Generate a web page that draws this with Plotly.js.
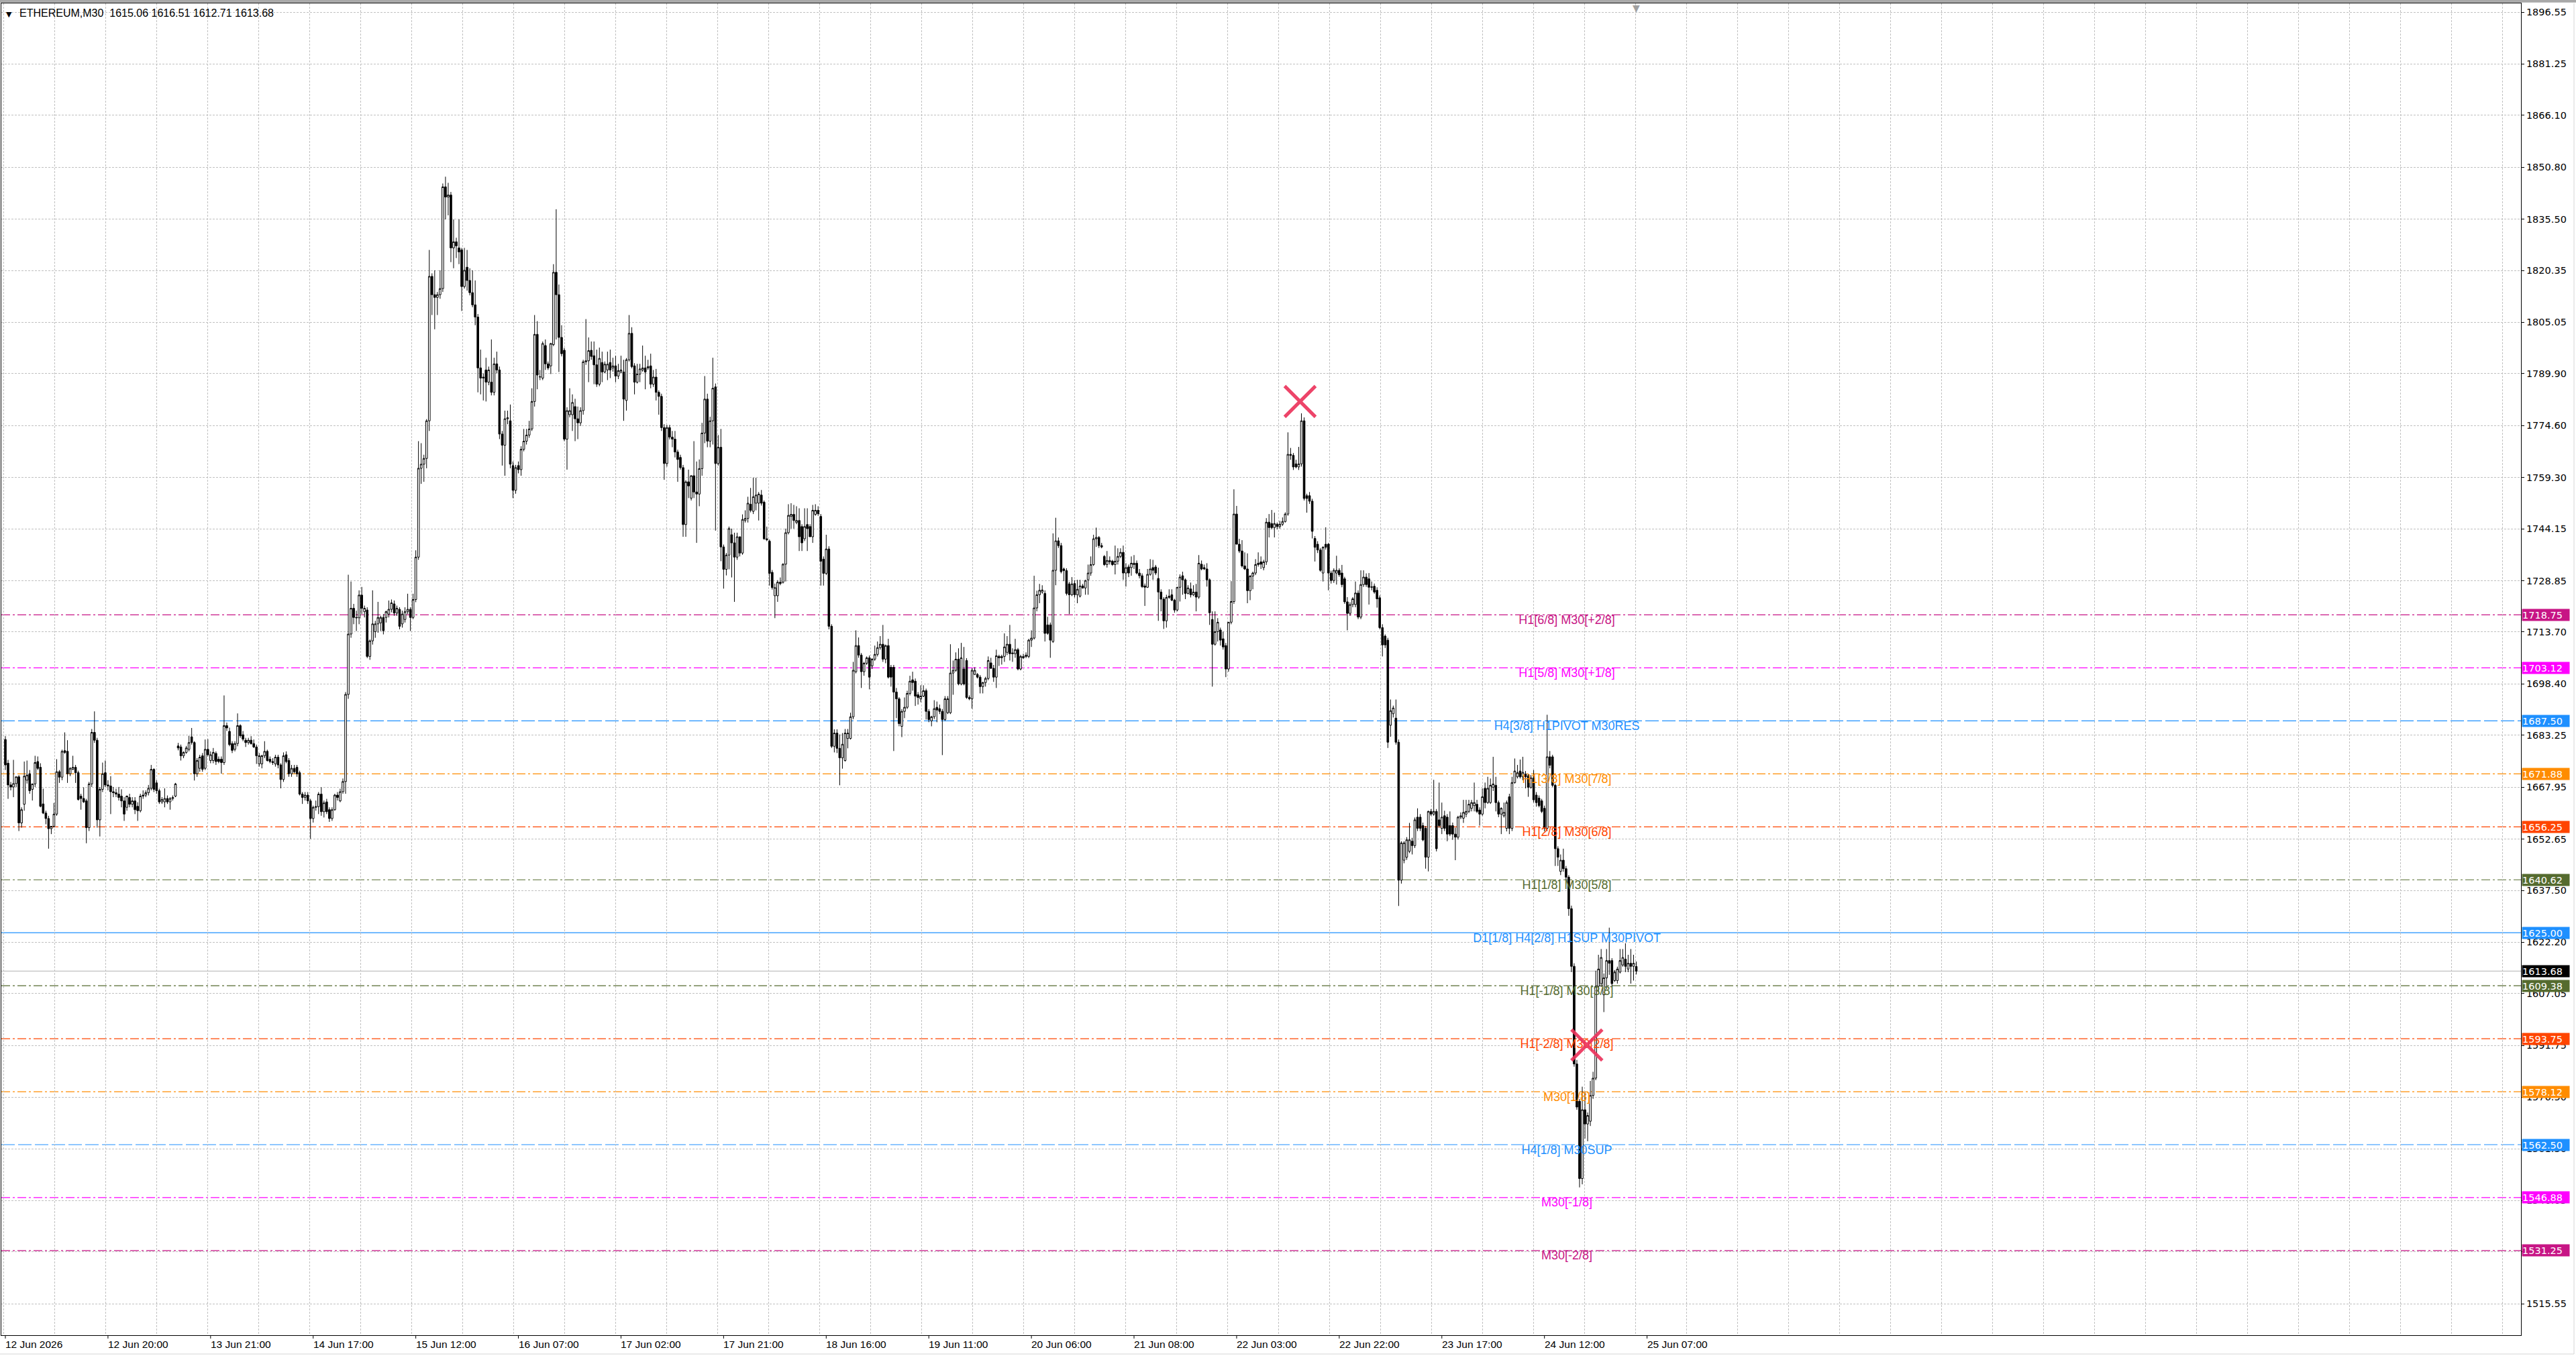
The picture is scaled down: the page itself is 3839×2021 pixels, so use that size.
<!DOCTYPE html>
<html>
<head>
<meta charset="utf-8">
<script src="https://cdn.plot.ly/plotly-3.0.1.min.js"></script>
<style>html,body{margin:0;padding:0;background:#fff;overflow:hidden}</style>
</head>
<body>
<div id="chart" style="width:3839px;height:2021px"></div>
<script>
// ---------------- DATA ----------------
const symbolName = 'ETHEREUM';
const timeframe = 'M30';

// OHLC per 30-minute bar (4 consecutive segments)
const openA = [1682,1675,1668.6,1668,1669,1671,1657.4,1662.9,1670,1671.9,
1667.3,1668.9,1675.5,1673.8,1663,1660.3,1658.7,1655.7,1656.4,1660,
1672.5,1670.9,1678.7,1678.5,1671.9,1673.2,1673.8,1672.2,1665.3,1664.6,
1663.9,1656,1668.9,1684.1,1681.8,1658.3,1667.3,1672.2,1668.6,1668.3,
1666.6,1666.3,1665.9,1665.3,1663.9,1662,1664.9,1662.9,1663.9,1662.3,
1661,1665.3,1665.6,1666.3,1667.6,1673.2,1669.2,1666.9,1663.6,1663.6,
1664.6,1663.6,1664.6,1665.3,1680.1,1679.8,1677.2,1678.2,1679.1,1682.8,
1681.1,1671.9,1673.5,1677.2,1673.5,1679.1,1675.8,1675.8,1677.9,1676.2,
1676.2,1675.2,1686.1,1684.4,1680.8,1679.1,1680.8,1686.1,1683.4,1681.8,
1681.1,1681.8,1680.8,1679.8,1674.8,1674.8,1677.2,1678.5,1676.2,1675.5,
1674.8,1676.8,1674.5,1670.2,1677.5,1675.8,1671.9,1673.5,1673.8,1672.2,
1665.9,1664.9,1665.6,1663.9,1658.7,1662,1662.2,1665.9,1660.7,1663.6,
1661.3,1658.7,1661.3,1665.6,1663.9,1666.6,1669.6,1695.3,1713.1,1720.7,
1718,1717.9,1724.6,1719.7,1720.2,1706.5,1711.1,1713.8,1716.1,1716.4,
1718,1718,1719,1720.4,1722,1719.3,1720.4,1716.1,1717.4,1719.7,
1720.4,1718,1723.3];
const highA = [1683,1676,1669.5,1676,1671,1671.5,1662,1675.5,1675.8,1673,
1669,1677.2,1677,1675,1667.5,1661,1659.5,1656.5,1663.3,1676.2,
1673,1679,1684.1,1681.8,1673.8,1677.2,1674.5,1672.8,1666,1667.9,
1664.5,1669.5,1685.1,1690.3,1682.5,1668,1675.2,1675.8,1670,1671.2,
1668,1667.5,1668,1667.3,1665,1665.5,1666,1665,1665,1663.5,
1666,1667,1667,1668.6,1674.5,1673.5,1670,1667.5,1665,1667.6,
1665.5,1665,1665.5,1669.2,1681,1680.5,1678.5,1680.1,1683.1,1685.4,
1681.5,1676.5,1677.5,1678,1682,1682.1,1678.5,1679.5,1678.5,1677,
1677,1695,1687,1685.5,1681.5,1681.5,1689.7,1686.5,1684.5,1682.5,
1682.5,1683,1682,1680.5,1678,1677.5,1681.5,1679,1677,1676.5,
1677.5,1677.5,1675,1678.2,1678.5,1676.5,1674.5,1674.5,1674.5,1672.8,
1666.5,1666.5,1666.5,1664.5,1662.5,1664,1666.5,1667.9,1664,1664.5,
1662,1662,1666,1666.5,1667.5,1670.5,1696,1730.6,1728.6,1722,
1720,1726,1727,1721.5,1721,1711.5,1726,1717,1722.6,1718.5,
1719,1720,1723,1723.3,1723,1721.5,1721,1720,1721,1725,
1721,1725,1737.8];
const lowA = [1673,1664.5,1667,1665,1668,1655,1656,1661,1669,1666,
1664,1668,1673,1662,1660,1657,1649.8,1654.1,1656,1659.5,
1669.2,1670,1677.8,1669.2,1671.2,1673,1669.2,1664,1661.3,1663.3,
1651.4,1655,1668,1681,1656,1653.4,1666.5,1668,1667,1660,
1665,1665,1664,1662,1658,1661,1662,1662,1660,1658,
1660.5,1664.5,1665,1665.5,1667,1666.5,1666,1663,1663,1662,
1663,1661.3,1664,1665,1678.8,1675.8,1676.5,1677.8,1678.5,1680.5,
1669.9,1671,1672.5,1672.5,1673,1677,1675,1675,1674.5,1675,
1671.9,1674.5,1684.5,1680,1678,1678.5,1680,1682.5,1681.5,1679.8,
1680.5,1680.5,1679.5,1674.8,1674,1673.5,1676.5,1675.5,1675,1674.5,
1674,1673.5,1667.6,1669.5,1675,1671,1671,1672,1671,1665.5,
1663,1664,1663,1652.7,1657.5,1661,1660,1659.5,1659,1660,
1657.7,1658,1661,1664,1663.5,1666,1666,1694,1712,1716,
1714,1716,1719,1718,1706,1705.5,1710,1712,1713.5,1714,
1713,1716.5,1718,1719.5,1718.5,1718.5,1714.5,1715,1716.5,1719,
1714,1717.5,1722.5];
const closeA = [1674.5,1668.6,1668,1669,1671,1657.4,1661.3,1671.2,1671.5,1666.9,
1668.9,1675.2,1673.5,1662.3,1660.3,1658.7,1655.7,1656.4,1660,1672.5,
1670.9,1678.5,1678.2,1671.9,1673.5,1673.8,1672.2,1664.3,1664.6,1663.6,
1656,1668.9,1684.1,1681.8,1658.3,1667.3,1671.9,1668.6,1668.3,1666.6,
1666.3,1665.9,1664.9,1663.9,1660,1665.3,1662.9,1663.9,1661.3,1661,
1665.3,1665.6,1666.3,1667.6,1673.2,1667.3,1666.9,1663.6,1664.3,1664.6,
1663.6,1664.6,1664.9,1668.9,1679.5,1677.2,1678.2,1679.5,1681.1,1681.1,
1671.9,1675.8,1676.8,1673.2,1679.1,1677.5,1677.5,1678.2,1675.5,1675.5,
1675.2,1686.1,1685.4,1680.5,1678.8,1680.8,1686.1,1683.1,1682.1,1681.1,
1681.8,1680.8,1679.8,1677.2,1677.2,1677.2,1678.5,1675.8,1675.5,1675.2,
1676.8,1674.5,1670.2,1677.2,1675.5,1671.9,1673.5,1672.5,1671.9,1665.9,
1664.9,1665.6,1663.9,1658.7,1662,1662.2,1665.9,1660.7,1663.3,1660.7,
1658.7,1661.3,1665.6,1664.9,1666.6,1669.6,1695.3,1713.1,1720.7,1718,
1717.9,1724.6,1720.7,1720.7,1706.5,1711.1,1716.1,1716.1,1718,1718,
1714.1,1719.7,1720.4,1722.3,1719.3,1720.7,1715.4,1719,1719.7,1720.4,
1718,1723.3,1735.8];

const openB = [1735.8,1762,1763.2,1764.9,1776,1818.6,1813.2,1812.4,1813.2,1815,
1845,1842,1842.6,1827,1828.8,1827,1826.4,1815.6,1821.3,1817.4,
1813.8,1810.2,1806.6,1791.6,1788.6,1791,1787.4,1787.4,1784.4,1792.8,
1791,1772.1,1768.8,1776.6,1776,1762.8,1755.5,1762.8,1761.6,1767.6,
1770,1771.8,1773.6,1781.7,1801.5,1788.9,1788.6,1798.2,1792.8,1792.2,
1798.5,1819.8,1813.2,1800.6,1796.8,1770.6,1777.8,1777.8,1780.2,1776.6,
1775.4,1779,1793.4,1793.7,1796.8,1795.2,1792.5,1786.8,1793.2,1790.4,
1791,1793.2,1791.6,1792.2,1789.2,1790.4,1790.4,1782,1794,1801.8,
1792.2,1787.4,1789.8,1791,1791.6,1791.6,1792.2,1786.8,1788.9,1784.4,
1783.2,1774,1763.4,1774,1771.2,1770.6,1766.8,1765.2,1762.2,1745.4,
1758,1753.2,1759.8,1755,1754.4,1761.9,1772.4,1782.4,1770,1776,
1786,1763.4,1768.2,1738.8,1732.2,1736.4,1742.4,1740,1735.8,1741.8,
1737,1746.6,1747.2,1751.4,1749.3,1751.7,1751.7,1754.1,1752,1741.2,
1740.5,1731.3,1724.4,1724.4,1728.4,1728.4,1733.7,1743,1747.8,1748.4,
1746,1746.6,1744.8,1741.2,1745.4,1744.8,1741.8,1748.4,1749.6,1747.8,
1735.2,1731,1738.2,1715.4];
const highB = [1770,1769.4,1766,1776.5,1826.4,1819.5,1820.4,1814,1820.4,1846,
1848,1846.2,1843.5,1835.4,1830,1835.4,1827,1827,1826.4,1821,
1820.4,1817.4,1807.5,1797,1790,1794.6,1792,1800,1794.6,1796.4,
1792,1773,1779,1779,1780.8,1764,1763,1764,1768.5,1773.6,
1773.6,1776,1785.6,1807.2,1805.4,1791,1799.4,1800,1793.5,1799,
1822.2,1838.4,1816.2,1804.2,1797.5,1780,1785.6,1783.8,1782.5,1780.2,
1780,1794,1806,1800.6,1799.4,1799.4,1797,1797.6,1796.4,1793.5,
1796.4,1797,1794.6,1795.2,1792.8,1795.2,1794,1794.5,1807.2,1803.6,
1793,1792.8,1792.8,1798.2,1795.2,1794,1795.8,1791,1791.3,1785,
1784,1775,1774.8,1774.8,1773,1773,1767.5,1766,1763,1758.5,
1761.6,1760,1770,1764,1764.6,1775.4,1789.2,1784,1777.2,1794.6,
1787,1771.8,1773.6,1739.5,1737,1744.8,1744.2,1743,1743,1741.8,
1748.4,1749.6,1753.6,1756.2,1759.2,1759.2,1755,1755.6,1752.5,1744.8,
1741,1732,1728,1729,1729.8,1734,1744.2,1751.4,1751.7,1751.2,
1750.8,1750.2,1745.5,1750.2,1750.2,1745.5,1751.2,1751.4,1750.8,1748.5,
1736,1742.4,1739,1716];
const lowB = [1735,1757.4,1758,1762,1773,1807.2,1803,1807.2,1812,1814,
1835.4,1836.6,1822.8,1821,1824,1822.2,1808.4,1815,1814.4,1813,
1809.5,1804.2,1784.4,1783.8,1782,1781.7,1786.5,1783.5,1783.5,1790,
1770.6,1762.8,1759.8,1775,1762,1753.2,1754.5,1760.5,1759.8,1767,
1769,1771,1773,1780.2,1785.3,1788,1788,1791,1791,1789.8,
1798,1800,1790.4,1795,1770,1761.6,1777,1773,1770,1770.6,
1774.5,1777.8,1792.5,1787.4,1794,1786.8,1786,1786.2,1787.4,1790,
1788,1788.6,1790.5,1787.4,1788.3,1790,1776,1779,1793.5,1791.5,
1783.8,1787,1787.4,1790.5,1785.3,1791,1785.6,1786,1782,1777.8,
1773,1758.6,1762.5,1770.5,1768.2,1765.2,1758,1761.6,1741.8,1741.8,
1753.2,1752.5,1753.2,1740,1750.8,1759.8,1769.4,1768.2,1768.2,1769,
1743.6,1762.8,1734.6,1726.5,1730.4,1732.2,1729.8,1722.6,1735,1736,
1736.5,1746,1746,1749,1748.5,1749.6,1746.6,1751,1740.9,1740.5,
1727.4,1726.2,1717.8,1722.6,1727.5,1728,1728.6,1742.5,1744.2,1744.2,
1745.5,1737.6,1737.6,1740.5,1737.6,1741.8,1740,1748,1748,1727.4,
1727.4,1730.5,1714.5,1679.5];
const closeB = [1762,1763.2,1764.9,1776,1818.6,1813.2,1812.4,1813.2,1815,1845,
1842,1842.6,1827,1828.8,1827.6,1825.8,1815.6,1820.4,1817.4,1813.8,
1810.2,1806.6,1791.6,1788.6,1788.9,1787.4,1791,1784.4,1792.8,1791,
1772.1,1768.8,1776.6,1776.9,1763.2,1755.5,1762.2,1761.6,1767.6,1770,
1771.8,1773.6,1781.7,1801.5,1789.5,1789,1798.8,1792.8,1791.6,1798.8,
1819.8,1813.2,1800.6,1795.8,1770.6,1779,1779,1781.4,1776.6,1775.4,
1779,1793.4,1793.7,1796.7,1795,1792.5,1786.8,1794.4,1790.4,1792.7,
1792.7,1791,1792.2,1789.2,1790.8,1791,1782.4,1794,1801.8,1792,
1787.4,1789.8,1791.3,1791.6,1790.4,1792,1786.8,1788.9,1784.4,1783.2,
1774,1763.4,1774,1771.2,1770.6,1766.8,1764.6,1762.2,1745.4,1758,
1756.8,1759.8,1755,1754.4,1761.9,1772.4,1782.4,1770,1776,1785.6,
1763.4,1768.2,1738.8,1732.2,1736.4,1744.2,1740,1735.8,1741.8,1737,
1746.9,1747.2,1751.7,1749.6,1753.6,1754.1,1754.4,1751.7,1741.2,1740.9,
1731,1726.8,1726.8,1728.4,1728,1733.7,1743,1748.1,1748.4,1746.6,
1746.6,1741.8,1740,1744.8,1744.2,1741.8,1749.6,1749.6,1748.6,1734.6,
1731,1738.2,1715.4,1680];

const openC = [1680,1683.9,1679.4,1676.6,1675.8,1682.3,1682.3,1688.7,1702,1709.7,
1706.9,1702,1704.5,1706.1,1703.7,1705.7,1707.1,1709.1,1710.1,1705.7,
1709.7,1703.3,1703.3,1696,1694,1685.9,1690.3,1691.5,1695.6,1699.6,
1699.2,1695.2,1694,1694.8,1696.4,1690.3,1687.5,1688.7,1691.5,1691.1,
1690.3,1687.9,1689.9,1689.9,1701.6,1702.4,1705.7,1698.4,1702.8,1705.3,
1694,1694,1701.2,1701.2,1700.4,1697.6,1698.8,1700,1704.6,1703,
1700.4,1706.5,1706.1,1706.5,1707.7,1710.1,1707.3,1707.3,1708.5,1702.8,
1706.1,1706.5,1706.5,1711.3,1711.9,1720.8,1724.7,1725.5,1725.1,1715.8,
1715.8,1710.9,1731.9,1740.6,1739.2,1732.3,1731.8,1727.9,1724.7,1728,
1724.7,1724.3,1727.3,1726.7,1729.1,1731.1,1733.6,1741.2,1741.6,1739.2,
1736,1733.6,1734.4,1734.6,1733.6,1734.6,1736,1737.2,1731.1,1732.9,
1732.7,1733.6,1734,1731.1,1730.3,1727.3,1726.9,1730.7,1732.7,1732.9,
1729.5,1725.5,1723.4,1717,1723.9,1724.7,1723.1,1720.2,1726.9,1730.3,
1729.1,1725.1,1726.4,1724.7,1725.5,1724,1733.7,1732.7,1732.3,1729.1,
1717.4,1710.1,1713.8,1714.3,1711.7,1709.7,1702.8,1716.6,1722.7,1748.5,
1739.6,1737.6,1733.2,1732.3,1725.9,1730.2,1731.1,1733.6,1734.4,1732.7,
1734.4,1746.1,1745.7,1744.5];
const highC = [1685,1685,1683.5,1683.9,1685.1,1685.1,1689.9,1704.9,1714.2,1712.1,
1707.5,1704.9,1706.5,1706.8,1706,1709.7,1710.9,1712.5,1715.8,1710,
1711.7,1704,1704,1697.2,1694.5,1691,1694.4,1696.4,1700.8,1702,
1700,1696,1698,1698,1697,1691,1689,1693.6,1693.2,1692.3,
1691,1694.8,1694.8,1710.1,1705.3,1707.7,1708.9,1710.5,1709.3,1706,
1695,1703,1703.3,1701.6,1701,1699,1700.5,1706.5,1706.1,1704,
1708.5,1707,1707,1713.3,1712.5,1715.8,1708.9,1711.7,1709,1707,
1707.3,1707.7,1711.7,1714.2,1730.3,1725.9,1727.9,1727.5,1726,1718.2,
1716.5,1742.8,1747.4,1741.6,1740,1732.7,1732.5,1728.5,1729.9,1729,
1729.1,1729.1,1727.9,1729.1,1733.6,1736,1742.4,1744.5,1742,1740,
1736.4,1737.6,1736,1735,1739.2,1738.4,1738.4,1739.2,1734,1733.6,
1736,1736.4,1734.8,1732.3,1731,1728,1732.3,1735.2,1735,1733.5,
1732.7,1726.3,1724,1724.7,1726.3,1726.3,1723.5,1727,1730.7,1731.5,
1729.5,1727.5,1728.3,1727.5,1727.9,1736.4,1734.8,1733.6,1734,1729.5,
1719.8,1719.8,1717.8,1715,1713.8,1710.5,1716.6,1728.7,1755.8,1750.9,
1741.2,1740.8,1737.2,1736.9,1730.5,1731.5,1735.2,1737.2,1736,1735,
1747.3,1748.5,1749.7,1748.9];
const lowC = [1678.2,1678,1668.5,1673.4,1675.5,1679.4,1682,1688,1701.5,1706.1,
1697.2,1700.8,1704,1696.8,1702.8,1705.2,1706.5,1708.5,1704.9,1704.5,
1700,1697.6,1678.6,1688.3,1685.9,1682.7,1688.3,1691,1695,1696.4,
1691.9,1692.3,1693,1694.5,1687.9,1687.1,1685.9,1688,1687.1,1689.5,
1677.4,1687.5,1689.5,1689.5,1695.2,1702,1698,1698,1698,1694,
1693.6,1691.1,1701,1700,1695.6,1695.6,1697.6,1699.5,1702.8,1699,
1697.2,1703.7,1704.1,1704.9,1706.9,1705.3,1704.9,1706.1,1702.4,1702.4,
1705.8,1706,1706,1709.3,1711.5,1719.8,1722.2,1725,1710.9,1712.9,
1706.1,1710.5,1727.5,1738.5,1731,1728.7,1724.5,1719,1724.3,1723.9,
1722.2,1723.9,1726.5,1724.7,1724.7,1730.3,1733.2,1738.8,1738.5,1738.4,
1733.2,1732.7,1733.6,1733.2,1730.7,1733.6,1735.5,1729.1,1727.1,1729.9,
1730.3,1732.3,1730.7,1729.5,1726.7,1721.4,1726.7,1730.3,1729.1,1730.5,
1717,1719.8,1714.6,1715,1723.5,1722.8,1719.4,1719.8,1722.7,1724.7,
1723.4,1724.8,1723.9,1724.3,1719.8,1723.5,1731.9,1732,1727.1,1715.8,
1697.6,1709.7,1710.9,1709.7,1708.5,1700.4,1702,1716,1722,1739.6,
1737,1732.7,1732,1722.2,1723.1,1726.3,1730.5,1733,1732.3,1731.9,
1733.5,1741.6,1744,1741.6];
const closeC = [1683.9,1679.4,1676.6,1680.6,1683.9,1683.9,1688.7,1702.4,1709.7,1706.9,
1702,1704.5,1706.1,1700.4,1705.7,1707.1,1709.1,1710.1,1705.7,1709.7,
1700.4,1700.4,1696,1694,1686.7,1690.3,1691.5,1695.6,1699.2,1698.8,
1694.8,1694.4,1694.8,1696.4,1690.3,1687.9,1688.7,1691.1,1690.7,1690.3,
1687.9,1694,1694,1701.6,1702.4,1705.7,1698.4,1706.1,1698.4,1694.4,
1694.4,1702.4,1702.4,1700.4,1697.6,1698.8,1700,1705.3,1703,1700.4,
1706.7,1706.1,1706.5,1709.3,1710.1,1707.3,1707.5,1708.5,1702.8,1706.5,
1706.5,1706.9,1711.3,1711.9,1720.8,1724.7,1726,1726.1,1713.3,1713.3,
1711.3,1731.9,1740.6,1739.2,1731.5,1731.8,1725.1,1724.7,1727.9,1724.7,
1726.3,1727.3,1726.7,1728.9,1731.1,1733.6,1741.2,1741.6,1739.2,1738.8,
1733.6,1734.8,1734.8,1733.6,1734.6,1736,1737.2,1731.1,1732.7,1731.1,
1734,1734,1731.1,1730.3,1727.1,1726.9,1730.7,1732.3,1731.9,1731.1,
1725.5,1723.4,1717,1723.9,1724.3,1723.1,1720.2,1726.9,1729.9,1729.1,
1725.1,1726.7,1724.7,1725.5,1724,1734,1732.3,1732.3,1729.1,1719.4,
1710.1,1713.8,1716.6,1711.3,1709.3,1702.8,1716.6,1722.7,1748.5,1739.6,
1737.6,1733.2,1732.3,1725.9,1730.2,1731.1,1733.6,1734,1733.7,1734.4,
1746.1,1744.5,1744.5,1745.7];

const openD = [1745.5,1744.8,1745.5,1746.3,1748.5,1766.1,1765.8,1763.3,1762.4,1763.3,
1776,1753.9,1753.9,1752.3,1741.3,1739.6,1737.9,1731.1,1739.6,1739.6,
1731.1,1728.9,1731.1,1731.9,1731.1,1729.4,1722.6,1719.2,1721.8,1721.8,
1725.2,1718.1,1727.7,1729.9,1729.4,1726.9,1727.2,1726,1723.8,1715,
1712.5,1711.3,1686.2,1689.6,1688.3,1681.2,1640.5,1646.4,1647.3,1649,
1652,1650.7,1659.1,1659.1,1656.6,1655.8,1647.3,1660.8,1660,1660.8,
1658.3,1655.8,1659.5,1659.1,1656.6,1656.6,1654.1,1653.2,1659.1,1658.8,
1660,1660.8,1661.7,1662.5,1662.9,1661.2,1660,1667.6,1663.4,1663.4,
1667.9,1668.5,1663.4,1660,1659.5,1655.8,1665.1,1655.8,1669.3,1671,
1672.7,1671,1671.8,1671.3,1667.9,1670.7,1665.6,1664.7,1663.9,1661.7,
1655.8,1676.9,1676.9,1668.5,1649.8,1643.1,1646.4,1643.9,1641.4,1632.1,
1615.1,1586.3,1575.3,1552.5,1572.8,1568.6,1569.4,1577,1582.1,1609.2,
1610,1606.7,1611.7,1616.8,1616.8,1610.9,1610.9,1613.4,1615.5,1617.2,
1614.3,1616,1615.1,1615.06];
const highD = [1746,1746.5,1747.5,1749,1772.6,1768,1766.5,1764.5,1768.3,1778.2,
1777,1754.5,1755,1753,1742,1740.5,1738.5,1739,1744.6,1740,
1731.8,1732.5,1736.2,1732.5,1733.5,1730,1724,1722.5,1724,1728.6,
1726,1731.9,1731.9,1731,1731.1,1728.6,1728,1726.9,1724.5,1716,
1713,1712,1693.8,1692,1693.8,1682,1652,1652,1653.2,1657.4,
1653,1659,1661.7,1660,1657.5,1656.5,1661,1661.5,1670.1,1661.5,
1669.3,1663.4,1661,1660,1660.8,1657.5,1656,1659.5,1660.5,1664.2,
1664.2,1664.2,1664.2,1669.3,1664.2,1662,1667.6,1669.3,1671,1670.5,
1676.9,1671,1664,1662,1663.4,1664,1666,1671,1676.4,1674.5,
1676.1,1676.9,1672.7,1671.8,1671.5,1673,1666.5,1665.5,1664.5,1662.5,
1689.3,1678.6,1677.5,1669,1650.5,1648.1,1649.8,1644.7,1642,1633,
1616,1587.5,1576,1579.6,1578,1572,1581.3,1584,1613.8,1618.5,
1620.2,1613,1620.2,1626.5,1617.5,1614,1615,1620.2,1620.2,1621.9,
1618.5,1620.2,1618.5,1616.51];
const lowD = [1744,1744.2,1745,1746,1748,1764.5,1761.5,1762,1761.5,1762.5,
1752.5,1748.9,1751.5,1741.3,1734.5,1737,1731.5,1728.6,1738,1726,
1728,1728.2,1727.7,1730,1726.9,1722,1714.2,1718.5,1721,1721,
1717.5,1717.5,1727,1727,1721.8,1726,1725,1720.9,1714.5,1706.5,
1709,1679.5,1682.8,1688.5,1680.5,1632.9,1639.5,1645.5,1646.5,1648.5,
1648.1,1650,1655,1655,1652,1643.9,1643.1,1659.5,1659.5,1649,
1656,1654.1,1655,1652,1653.5,1652.4,1646.4,1652.5,1658.5,1657.4,
1659.1,1660.3,1660.8,1660.8,1660.3,1656.6,1659.5,1661.7,1663,1663,
1666.8,1660.8,1659.1,1654.1,1659,1654.9,1654.1,1655,1669,1670.5,
1670.5,1670,1667.6,1665.1,1667.5,1663.4,1662.2,1662,1660.3,1654.9,
1655,1673.5,1668,1644.7,1644.7,1642,1643,1640.5,1630,1613.4,
1585.5,1572.8,1549.9,1550.8,1564.3,1563.5,1568,1576,1581.5,1607.5,
1609,1601.6,1608.4,1612.6,1609.2,1610.5,1610,1613,1615,1613.4,
1613.4,1610,1610.9,1612.71];
const closeD = [1744.8,1745.5,1746.3,1748.5,1766.1,1765.8,1762.4,1762.4,1763.3,1776,
1753.1,1753.1,1752.3,1743.4,1738.7,1737.9,1731.9,1738.7,1738.7,1731.1,
1728.9,1731.9,1731.9,1730.6,1727.7,1722.6,1719.2,1721.8,1723.5,1725.2,
1718.1,1727.7,1729.9,1727.7,1726.9,1727,1725.5,1723.5,1715,1709.9,
1709.9,1681.2,1690.5,1691.3,1681.2,1640.5,1651.5,1651.5,1652.4,1652.4,
1650.7,1658.3,1655.8,1655.8,1652.4,1647.3,1660.8,1660,1660.8,1649.8,
1656.6,1659.1,1655.8,1654.1,1654.1,1654.1,1653.2,1659.1,1659.5,1660.5,
1660.8,1662.9,1663.4,1663.4,1660.8,1660,1665.1,1663.4,1667.6,1668.5,
1668.9,1663.4,1660,1661.7,1660.5,1663.4,1655.8,1669.3,1672.7,1672.2,
1671,1672.3,1671,1667.9,1670.7,1664.2,1663.4,1662.5,1660.8,1655.8,
1676.9,1674.4,1668.5,1649.8,1647.3,1646.4,1643.9,1641.4,1632.1,1615.1,
1586.3,1573.6,1552.5,1572.8,1568.6,1571.1,1577,1582.1,1609.2,1614.3,
1617.7,1611.7,1616.8,1616,1610,1613.4,1614.3,1616.8,1617.7,1615.1,
1616,1615.1,1616,1613.68];

// time-axis labels (one every 38 bars)
const timeLabels = ['12 Jun 2026','12 Jun 20:00','13 Jun 21:00','14 Jun 17:00','15 Jun 12:00',
'16 Jun 07:00','17 Jun 02:00','17 Jun 21:00','18 Jun 16:00','19 Jun 11:00','20 Jun 06:00',
'21 Jun 08:00','22 Jun 03:00','22 Jun 22:00','23 Jun 17:00','24 Jun 12:00','25 Jun 07:00'];
const barsPerTimeLabel = 38;

// price-scale tick labels
const priceTicks = [1896.55,1881.25,1866.10,1850.80,1835.50,1820.35,1805.05,1789.90,1774.60,
1759.30,1744.15,1728.85,1713.70,1698.40,1683.25,1667.95,1652.65,1637.50,1622.20,1607.05,
1591.75,1576.50,1561.30,1546.05,1530.85,1515.55];

// Murrey-math style levels
const levelPrices = [1718.75,1703.12,1687.50,1671.88,1656.25,1640.62,1625.00,1609.38,1593.75,1578.12,1562.50,1546.88,1531.25];
const levelLabels = ['H1[6/8] M30[+2/8]','H1[5/8] M30[+1/8]','H4[3/8] H1PIVOT M30RES','H1[3/8] M30[7/8]',
'H1[2/8] M30[6/8]','H1[1/8] M30[5/8]','D1[1/8] H4[2/8] H1SUP M30PIVOT','H1[-1/8] M30[3/8]',
'H1[-2/8] M30[2/8]','M30[1/8]','H4[1/8] M30SUP','M30[-1/8]','M30[-2/8]'];

// cross markers (bar index, price)
const crossBars = [479.5, 585.7];
const crossPrices = [1781.7, 1591.9];

// ---------------- STYLE / GEOMETRY ----------------
const levelColors = ['#C71585','#FF00FF','#1E90FF','#FF8C00','#FF4500','#556B2F','#1E90FF','#556B2F','#FF4500','#FF8C00','#1E90FF','#FF00FF','#C71585'];
const DASHDOT = '13px,4px,3px,4px', DASH = '20px,5px';
const levelDash = [DASHDOT,DASHDOT,DASH,DASHDOT,DASHDOT,DASHDOT,'solid',DASHDOT,DASHDOT,DASHDOT,DASH,DASHDOT,DASHDOT];
const W = 3839, H = 2021;
const M = {l:2, r:82, t:5, b:31};
const barPx = 4.024, bar0Px = 8;          // pixel spacing of bars, pixel x of first bar
const gridPx0 = 5.6, gridStepPx = 76;     // vertical grid in pixels
const labelBar = 578.3;                   // where level texts are centred
const plotH = H - M.t - M.b;
const plotW = W - M.l - M.r;

// ---------------- BUILD ----------------
const openP = openA.concat(openB, openC, openD);
const highP = highA.concat(highB, highC, highD);
const lowP = lowA.concat(lowB, lowC, lowD);
const closeP = closeA.concat(closeB, closeC, closeD);
const nBars = Math.min(openP.length, highP.length, lowP.length, closeP.length);
const barIdx = Array.from({length: nBars}, (_, i) => i);
const lastClose = closeP[nBars - 1];

const xMin = (M.l - bar0Px) / barPx;
const xMax = (W - M.r - bar0Px) / barPx;
const gridVals = [];
for (let px = gridPx0; px <= W - M.r; px += gridStepPx) gridVals.push((px - bar0Px) / barPx);

const GRID = '#C0C0C0';

const traces = [
  {
    type: 'scatter', mode: 'text', x: levelPrices.map(() => labelBar), y: levelPrices,
    text: levelLabels, textposition: 'bottom center',
    textfont: {family: 'Liberation Sans, Arial, sans-serif', size: 18, color: levelColors},
    hoverinfo: 'skip', cliponaxis: false
  },
  {
    type: 'candlestick', x: barIdx,
    open: openP.slice(0, nBars), high: highP.slice(0, nBars), low: lowP.slice(0, nBars), close: closeP.slice(0, nBars),
    increasing: {line: {color: '#000000', width: 1}, fillcolor: '#FFFFFF'},
    decreasing: {line: {color: '#000000', width: 1}, fillcolor: '#000000'},
    whiskerwidth: 0, hoverinfo: 'skip'
  },
  {
    type: 'scatter', mode: 'markers', x: crossBars, y: crossPrices,
    marker: {symbol: 'x-thin', size: 46, color: 'rgba(236,52,92,0.92)', line: {width: 5, color: 'rgba(236,52,92,0.92)'}},
    hoverinfo: 'skip'
  }
];

const shapes = [];
// window frame: grey strip on top, light grey edge right/bottom
shapes.push({type: 'rect', xref: 'paper', yref: 'paper', x0: -M.l / plotW, x1: (W - M.l) / plotW,
  y0: 1 + 1.2 / plotH, y1: 1 + M.t / plotH, fillcolor: '#A8A8A8', line: {width: 0}});
shapes.push({type: 'line', xref: 'paper', yref: 'paper', x0: (W - 3 - M.l) / plotW, x1: (W - 3 - M.l) / plotW,
  y0: -(M.b - 3) / plotH, y1: 1, line: {color: '#D4D4D4', width: 1}});
shapes.push({type: 'line', xref: 'paper', yref: 'paper', x0: -M.l / plotW, x1: (W - 3 - M.l) / plotW,
  y0: -(M.b - 3) / plotH, y1: -(M.b - 3) / plotH, line: {color: '#D4D4D4', width: 1}});
levelPrices.forEach((p, i) => {
  shapes.push({type: 'line', xref: 'paper', x0: 0, x1: 1, yref: 'y', y0: p, y1: p,
    line: {color: levelColors[i], width: 1.2, dash: levelDash[i]}, layer: 'between'});
});
shapes.push({type: 'line', xref: 'paper', x0: 0, x1: 1, yref: 'y', y0: lastClose, y1: lastClose,
  line: {color: '#C0C0C0', width: 1.2}, layer: 'between'});
timeLabels.forEach((t, k) => {
  shapes.push({type: 'line', xref: 'x', x0: k * barsPerTimeLabel, x1: k * barsPerTimeLabel,
    yref: 'paper', y0: 0, y1: -5 / plotH, line: {color: '#000', width: 1}});
});

const annotations = [];
timeLabels.forEach((t, k) => {
  annotations.push({xref: 'x', x: k * barsPerTimeLabel, yref: 'paper', y: 0, yanchor: 'top', yshift: -3,
    xanchor: 'left', xshift: -2, text: t, showarrow: false,
    font: {family: 'Liberation Sans, Arial, sans-serif', size: 15.5, color: '#000'}});
});
levelPrices.forEach((p, i) => {
  annotations.push({xref: 'paper', x: 1, xanchor: 'left', xshift: 1, yref: 'y', y: p, yanchor: 'middle',
    text: p.toFixed(2), showarrow: false, bgcolor: levelColors[i], width: 70, height: 17, align: 'left',
    borderpad: 0, font: {family: 'DejaVu Sans, Verdana, sans-serif', size: 14.5, color: '#FFFFFF'}});
});
annotations.push({xref: 'paper', x: 1, xanchor: 'left', xshift: 1, yref: 'y', y: lastClose, yanchor: 'middle',
  text: lastClose.toFixed(2), showarrow: false, bgcolor: '#000000', width: 70, height: 17, align: 'left',
  borderpad: 0, font: {family: 'DejaVu Sans, Verdana, sans-serif', size: 14.5, color: '#FFFFFF'}});
// chart-shift marker above the last bar
annotations.push({xref: 'x', x: nBars - 1, xanchor: 'center', yref: 'paper', y: 1, yanchor: 'top', yshift: 3,
  text: '▼', showarrow: false, font: {family: 'DejaVu Sans, sans-serif', size: 14, color: '#A0A0A0'}});
annotations.push({xref: 'paper', x: 0, xanchor: 'left', xshift: 5, yref: 'paper', y: 1, yanchor: 'top', yshift: -8,
  text: '▼', showarrow: false, font: {family: 'DejaVu Sans, sans-serif', size: 11, color: '#000'}});
annotations.push({xref: 'paper', x: 0, xanchor: 'left', xshift: 25, yref: 'paper', y: 1, yanchor: 'top', yshift: -4,
  text: symbolName + ',' + timeframe + '  ' + [openP[nBars-1], highP[nBars-1], lowP[nBars-1], closeP[nBars-1]].map(v => v.toFixed(2)).join(' '),
  showarrow: false, font: {family: 'Liberation Sans, Arial, sans-serif', size: 16, color: '#000'}});

const layout = {
  width: W, height: H, margin: {l: M.l, r: M.r, t: M.t, b: M.b, pad: 0},
  paper_bgcolor: '#FFFFFF', plot_bgcolor: '#FFFFFF', showlegend: false, hovermode: false,
  boxgap: 0.35, boxgroupgap: 0,
  xaxis: {
    range: [xMin, xMax], tickmode: 'array', tickvals: gridVals, ticktext: gridVals.map(() => ''),
    showticklabels: false, ticks: '', showgrid: true, gridcolor: GRID, griddash: '3px,2px', gridwidth: 1,
    showline: true, linecolor: '#000', linewidth: 1, mirror: true, zeroline: false,
    rangeslider: {visible: false}, fixedrange: true
  },
  yaxis: {
    range: [1506.30, 1899.13], side: 'right', tickmode: 'array', tickvals: priceTicks,
    ticktext: priceTicks.map(v => v.toFixed(2)), ticks: 'outside', ticklen: 4, tickcolor: '#000', tickwidth: 1,
    tickfont: {family: 'DejaVu Sans, Verdana, sans-serif', size: 14.5, color: '#000'},
    showgrid: true, gridcolor: GRID, griddash: '3px,2px', gridwidth: 1,
    showline: true, linecolor: '#000', linewidth: 1, mirror: true, zeroline: false, fixedrange: true
  },
  shapes: shapes, annotations: annotations
};

Plotly.newPlot('chart', traces, layout, {displayModeBar: false, staticPlot: true});
</script>
</body>
</html>
